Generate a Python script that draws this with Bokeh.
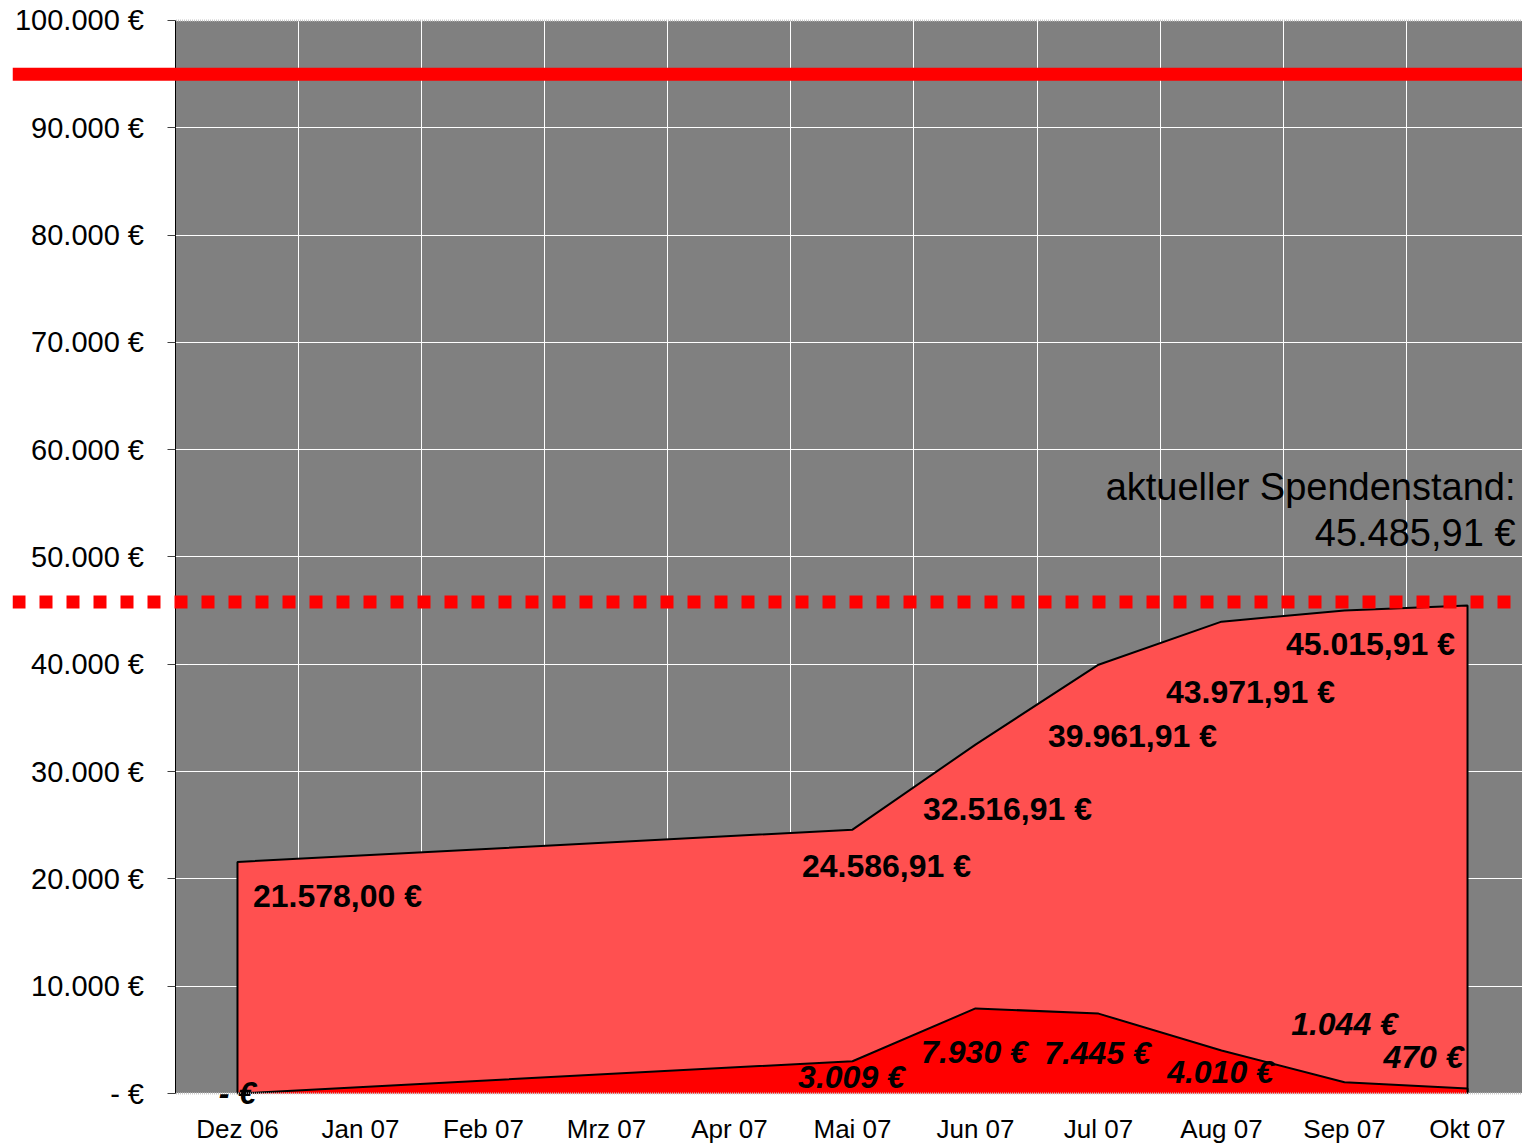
from bokeh.plotting import figure
from bokeh.models import FixedTicker, Span, Label, ColumnDataSource, BoxAnnotation
from bokeh.core.properties import value
from bokeh.embed import file_html
from bokeh.resources import INLINE

# ---------------- data ----------------
months = ["Dez 06", "Jan 07", "Feb 07", "Mrz 07", "Apr 07", "Mai 07",
          "Jun 07", "Jul 07", "Aug 07", "Sep 07", "Okt 07"]
cumulative = [21578.00, None, None, None, None, 24586.91, 32516.91,
              39961.91, 43971.91, 45015.91, 45485.91]
monthly = [0, None, None, None, None, 3009, 7930, 7445, 4010, 1044, 470]
cum_labels = ["21.578,00 €", None, None, None, None, "24.586,91 €",
              "32.516,91 €", "39.961,91 €", "43.971,91 €", "45.015,91 €", None]
mon_labels = ["- €", None, None, None, None, "3.009 €", "7.930 €",
              "7.445 €", "4.010 €", "1.044 €", "470 €"]
goal_value = 95000
level_value = 45800
current_text = ["aktueller Spendenstand:", "45.485,91 €"]
current_value = 45485.91
y_ticks = [0, 10000, 20000, 30000, 40000, 50000, 60000, 70000, 80000, 90000, 100000]
y_tick_labels = ["- €", "10.000 €", "20.000 €", "30.000 €", "40.000 €", "50.000 €",
                 "60.000 €", "70.000 €", "80.000 €", "90.000 €", "100.000 €"]

# label pixel offsets (layout only)
cum_dx = [100, 0, 0, 0, 0, 34, 32, 34, 29, 26, 0]
cum_dy = [34, 0, 0, 0, 0, 36, 64, 71, 70, 34, 0]
mon_dx = [0, 0, 0, 0, 0, -1, -1, -1, -1, 0, -44]
mon_dy = [-1, 0, 0, 0, 0, 16, 44, 39, 22, -58, -31]

FONT_NAME = "Liberation Sans"
FONT = value(FONT_NAME)
X0, X1 = -1.829, 10.447
Y0, Y1 = -1491, 101677
YMIN, YMAX = 0, 100000

p = figure(width=1522, height=1146, x_range=(X0, X1), y_range=(Y0, Y1),
           output_backend="svg", toolbar_location=None,
           min_border_left=12, min_border_right=0, min_border_top=2,
           min_border_bottom=36)
p.background_fill_color = "white"
p.border_fill_color = "white"
p.outline_line_color = None

# gray plot area (under the grid)
area_bg = BoxAnnotation(left=-0.5, right=X1 + 1, bottom=YMIN, top=YMAX,
                        fill_color="#808080", fill_alpha=1.0, line_color=None,
                        level="underlay")
p.add_layout(area_bg)
others = [r for r in p.center if r is not area_bg]
p.center = [area_bg] + others

# grids
p.xgrid.ticker = FixedTicker(ticks=[i + 0.5 for i in range(len(months) - 1)])
p.xgrid.grid_line_color = "white"
p.xgrid.grid_line_width = 1
p.xgrid.bounds = (YMIN, YMAX)
p.ygrid.ticker = FixedTicker(ticks=y_ticks)
p.ygrid.grid_line_color = "white"
p.ygrid.grid_line_width = 1
p.ygrid.bounds = (-0.5, X1)

# areas
idx = [i for i, v in enumerate(cumulative) if v is not None]
cx = [idx[0]] + idx + [idx[-1]]
cy = [0] + [cumulative[i] for i in idx] + [0]
p.patch(cx, cy, fill_color="#FF5050", line_color=None)
p.line(cx, cy, line_color="black", line_width=2)

midx = [i for i, v in enumerate(monthly) if v is not None]
mx = midx + [midx[-1], midx[0]]
my = [monthly[i] for i in midx] + [0, 0]
p.patch(mx, my, fill_color="#FF0000", line_color=None)
p.line(midx + [midx[-1]], [monthly[i] for i in midx] + [0],
       line_color="black", line_width=2)

# frame edges of the plot area (light dotted)
p.line([-0.5, X1], [YMIN, YMIN], line_color="#C8C8C8", line_width=2, line_dash="1 1")
p.line([-0.5, X1], [YMAX, YMAX], line_color="#C8C8C8", line_width=2, line_dash="1 1")

# value labels
cs = ColumnDataSource(dict(
    x=[i for i in idx if cum_labels[i]],
    y=[cumulative[i] for i in idx if cum_labels[i]],
    text=[cum_labels[i] for i in idx if cum_labels[i]],
    dx=[cum_dx[i] for i in idx if cum_labels[i]],
    dy=[cum_dy[i] for i in idx if cum_labels[i]],
))
p.text(x="x", y="y", text="text", x_offset="dx", y_offset="dy", source=cs,
       text_font=FONT, text_font_style="bold", text_font_size="32px",
       text_align="center", text_baseline="middle", text_color="black")

ms = ColumnDataSource(dict(
    x=[i for i in midx if mon_labels[i]],
    y=[monthly[i] for i in midx if mon_labels[i]],
    text=[mon_labels[i] for i in midx if mon_labels[i]],
    dx=[mon_dx[i] for i in midx if mon_labels[i]],
    dy=[mon_dy[i] for i in midx if mon_labels[i]],
))
p.text(x="x", y="y", text="text", x_offset="dx", y_offset="dy", source=ms,
       text_font=FONT, text_font_style="bold italic", text_font_size="32px",
       text_align="center", text_baseline="middle", text_color="black")

# reference lines
p.add_layout(Span(location=goal_value, dimension="width", line_color="#FF0000",
                  line_width=13))
p.add_layout(Span(location=level_value, dimension="width", line_color="#FF0000",
                  line_width=13, line_dash="13 14"))

# current amount text
p.add_layout(Label(x=len(months) - 1, y=current_value, x_offset=48, y_offset=118,
                   text=current_text[0], text_align="right", text_baseline="middle",
                   text_font=FONT_NAME, text_font_size="38px", text_color="black"))
p.add_layout(Label(x=len(months) - 1, y=current_value, x_offset=48, y_offset=72,
                   text=current_text[1], text_align="right", text_baseline="middle",
                   text_font=FONT_NAME, text_font_size="38px", text_color="black"))

# axes
xa = p.xaxis[0]
xa.ticker = FixedTicker(ticks=list(range(len(months))))
xa.major_label_overrides = {i: m for i, m in enumerate(months)}
xa.axis_line_color = None
xa.major_tick_line_color = None
xa.minor_tick_line_color = None
xa.major_tick_out = 0
xa.major_label_standoff = 4
xa.major_label_text_font = FONT_NAME
xa.major_label_text_font_size = "26px"
xa.major_label_text_color = "black"

ya = p.yaxis[0]
ya.fixed_location = -0.5
ya.bounds = (YMIN, YMAX)
ya.ticker = FixedTicker(ticks=y_ticks)
ya.major_label_overrides = {t: l for t, l in zip(y_ticks, y_tick_labels)}
ya.axis_line_color = "black"
ya.axis_line_width = 1
ya.major_tick_line_color = "#404040"
ya.major_tick_out = 8
ya.major_tick_in = 0
ya.minor_tick_line_color = None
ya.major_label_standoff = 24
ya.major_label_text_font = FONT_NAME
ya.major_label_text_font_size = "29px"
ya.major_label_text_color = "black"

open("out.html", "w").write(file_html(p, INLINE))
